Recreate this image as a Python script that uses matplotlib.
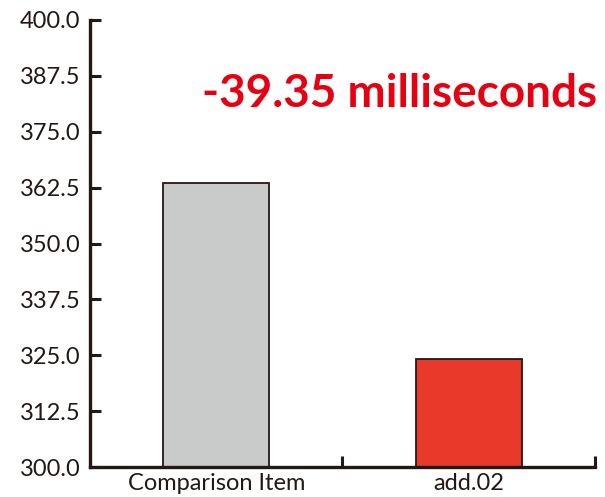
import matplotlib.pyplot as plt
import numpy as np

plt.rcParams['font.family'] = ['Lato', 'DejaVu Sans']

categories = ['Comparison Item', 'add.02']
values = [363.5, 324.15]
colors = ['#c9caca', '#e8392a']
yticks = np.arange(300, 400.1, 12.5)

dark = '#231815'

fig = plt.figure(figsize=(6.05, 4.97), dpi=100)
ax = fig.add_axes([0.149, 0.060, 0.834, 0.900])

x = np.arange(len(categories))
ax.bar(x, values, width=0.42, color=colors, edgecolor=dark, linewidth=1.3, zorder=2)

ax.set_xlim(-0.5, 1.5)
ax.set_ylim(300, 400)
ax.set_yticks(yticks)
ax.set_yticklabels(['%.1f' % t for t in yticks], fontsize=17, color=dark)
ax.set_xticks(x)
ax.set_xticklabels(categories, fontsize=17, color=dark)
ax.tick_params(axis='x', length=0, pad=4)
ax.set_xticks([0.5, 1.5], minor=True)
ax.tick_params(axis='x', which='minor', direction='in', length=8, width=2.2, color=dark)
ax.tick_params(axis='y', direction='in', length=8, width=2.2, color=dark, pad=7)

for s in ['top', 'right']:
    ax.spines[s].set_visible(False)
for s in ['left', 'bottom']:
    ax.spines[s].set_linewidth(2.4)
    ax.spines[s].set_color(dark)

diff = values[1] - values[0]
ax.text(1.004, 0.805, '%.2f milliseconds' % diff, transform=ax.transAxes,
        ha='right', va='baseline', fontsize=33, fontweight='bold', color='#e60012')

fig.savefig('out.png', dpi=100)
